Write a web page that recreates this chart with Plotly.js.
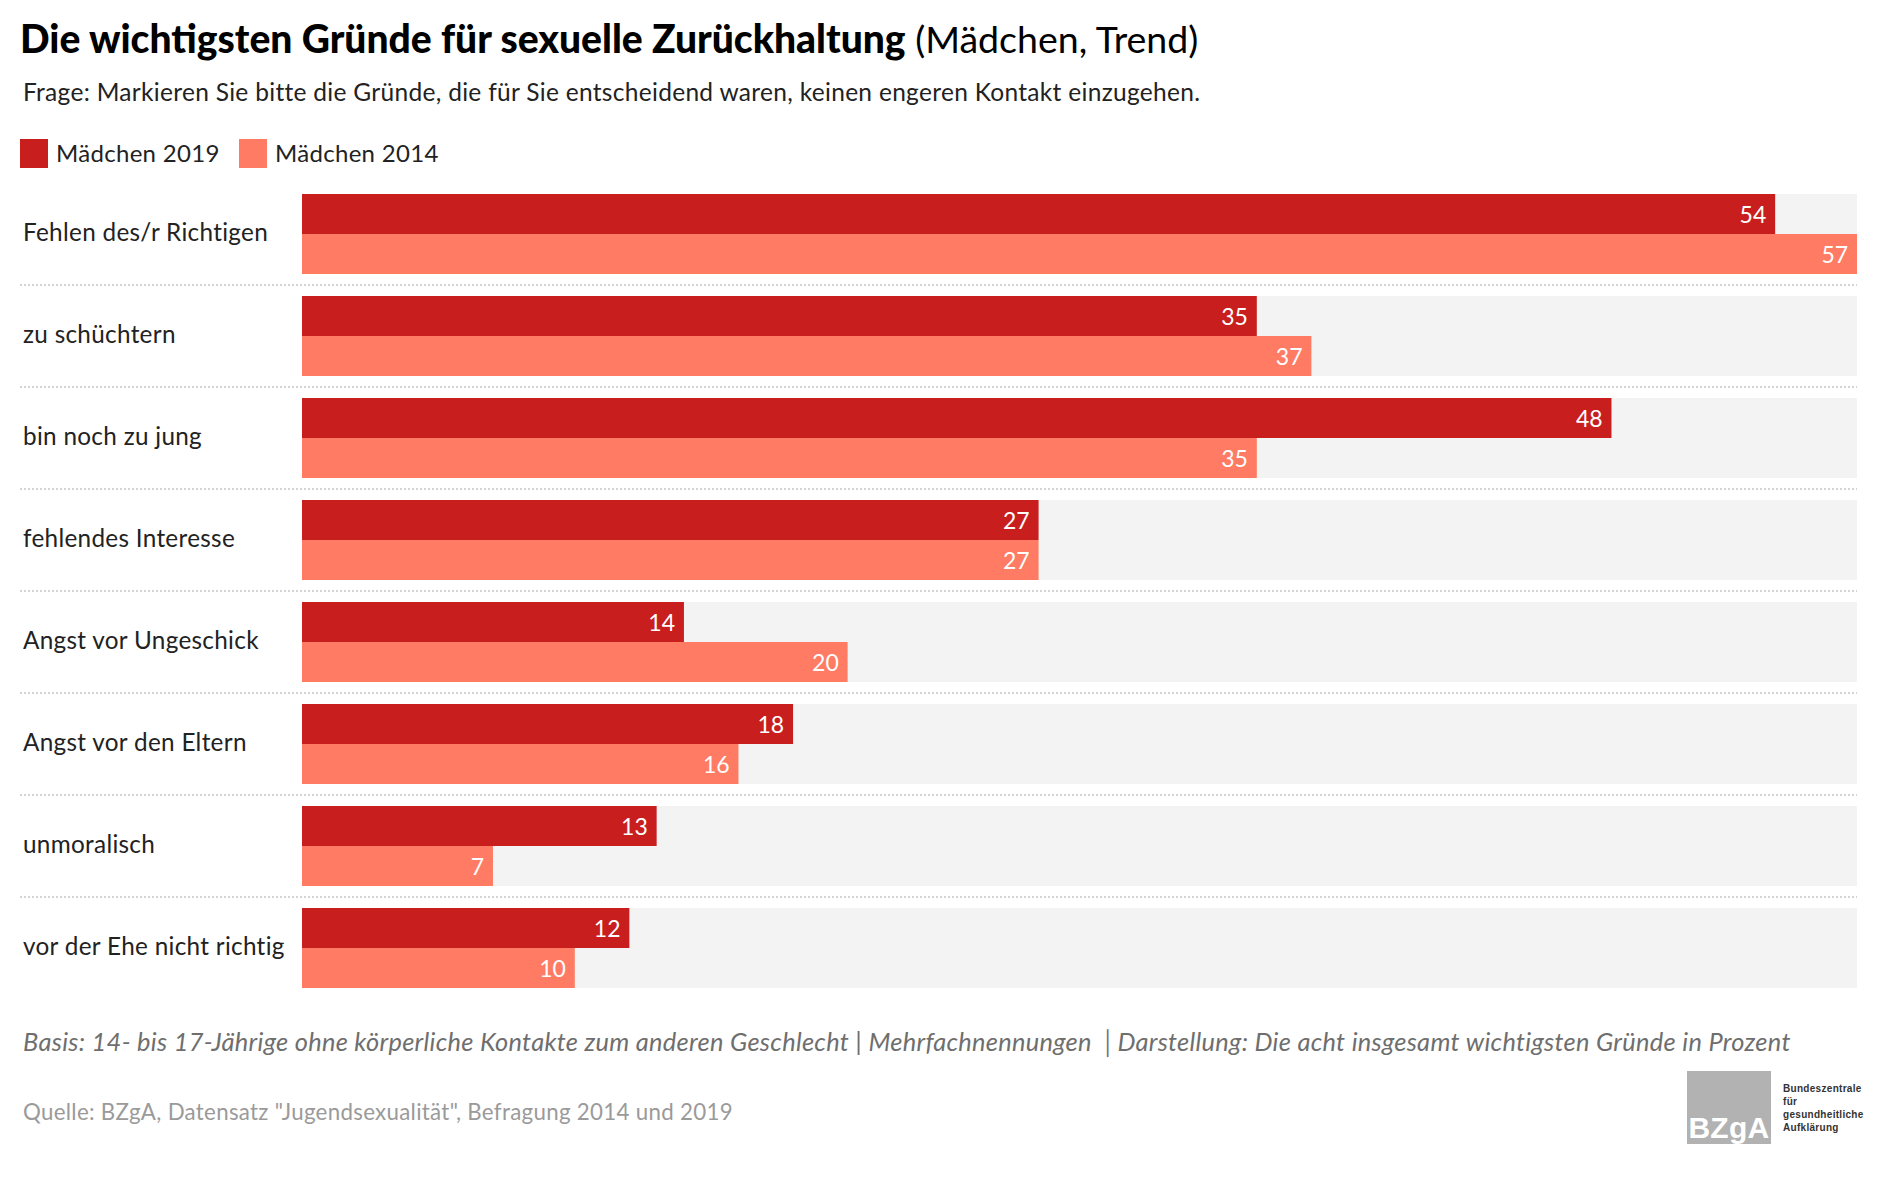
<!DOCTYPE html>
<html lang="de">
<head>
<meta charset="utf-8">
<title>Die wichtigsten Gründe für sexuelle Zurückhaltung</title>
<script src="https://cdn.plot.ly/plotly-3.0.1.min.js"></script>
<style>
  html, body { margin: 0; padding: 0; background: #ffffff; }
  #chart { width: 1880px; height: 1178px; }
  #chart .annotation-text { letter-spacing: 0.3px; }
</style>
</head>
<body>
<div id="chart"></div>
<script>
// Reasons (top to bottom) and shares in percent
const categories = [
  'Fehlen des/r Richtigen',
  'zu schüchtern',
  'bin noch zu jung',
  'fehlendes Interesse',
  'Angst vor Ungeschick',
  'Angst vor den Eltern',
  'unmoralisch',
  'vor der Ehe nicht richtig'
];
const girls2019 = [54, 35, 48, 27, 14, 18, 13, 12];
const girls2014 = [57, 37, 35, 27, 20, 16, 7, 10];
const seriesNames = ['Mädchen 2019', 'Mädchen 2014'];

const titleBold = 'Die wichtigsten Gründe für sexuelle Zurückhaltung';
const titleRest = '(Mädchen, Trend)';
const question = 'Frage: Markieren Sie bitte die Gründe, die für Sie entscheidend waren, keinen engeren Kontakt einzugehen.';
const basisNote = 'Basis: 14- bis 17-Jährige ohne körperliche Kontakte zum anderen Geschlecht | Mehrfachnennungen \u2502Darstellung: Die acht insgesamt wichtigsten Gründe in Prozent';
const sourceNote = 'Quelle: BZgA, Datensatz "Jugendsexualität", Befragung 2014 und 2019';
const logoWord = 'BZgA';
const logoLines = ['Bundeszentrale', 'für', 'gesundheitliche', 'Aufklärung'];

// Styling
const FONT = 'Lato, "Open Sans", "DejaVu Sans", sans-serif';
const LOGO_FONT = '"Liberation Sans", Arial, sans-serif';
const COLOR_2019 = '#c81e1e';
const COLOR_2014 = '#ff7b63';
const TRACK = '#f3f3f3';
const TEXT = '#222222';

// Page geometry (pixels) of the plotting area
const W = 1880, H = 1178;
const L = 302, R = 1857, T = 183, B = 999;
const px = x => (x - L) / (R - L);
const py = y => (B - y) / (B - T);

const axisMax = Math.max(...girls2019, ...girls2014);
const pairWidth = 80 / 102;
const half = pairWidth / 2;

const valueFont = { family: FONT, size: 23, color: '#ffffff' };

const traces = [
  {
    // light track behind each pair of bars
    type: 'bar', orientation: 'h',
    y: categories, x: categories.map(() => axisMax),
    width: pairWidth, offset: -half,
    marker: { color: TRACK },
    hoverinfo: 'skip', showlegend: false
  },
  {
    type: 'bar', orientation: 'h', name: seriesNames[0],
    y: categories, x: girls2019,
    width: half, offset: -half,
    marker: { color: COLOR_2019 },
    texttemplate: '%{x}\u00a0', textposition: 'inside', insidetextanchor: 'end',
    constraintext: 'none', textangle: 0, textfont: valueFont,
    showlegend: false
  },
  {
    type: 'bar', orientation: 'h', name: seriesNames[1],
    y: categories, x: girls2014,
    width: half, offset: 0,
    marker: { color: COLOR_2014 },
    texttemplate: '%{x}\u00a0', textposition: 'inside', insidetextanchor: 'end',
    constraintext: 'none', textangle: 0, textfont: valueFont,
    showlegend: false
  }
];

const shapes = [];
const annotations = [];

// Left-aligned text helper
function note(x, y, text, font, extra) {
  return Object.assign({
    xref: 'paper', yref: 'paper', x: x, y: y,
    xanchor: 'left', yanchor: 'middle', align: 'left',
    showarrow: false, text: text, font: font
  }, extra || {});
}

// Dotted separators between the reasons
for (let i = 0; i < categories.length - 1; i++) {
  shapes.push({
    type: 'line', xref: 'paper', yref: 'y',
    x0: px(20), x1: 1, y0: i + 0.5, y1: i + 0.5,
    line: { color: '#d4d4d4', width: 2, dash: '2px,2px' }
  });
}

// Reason labels, left aligned
categories.forEach(c => {
  annotations.push(note(px(21), c, c,
    { family: FONT, size: 24.3, color: TEXT },
    { yref: 'y', yshift: 3 }));
});

// Legend
const legendItems = [
  { name: seriesNames[0], color: COLOR_2019, x0: 20, x1: 48, tx: 54 },
  { name: seriesNames[1], color: COLOR_2014, x0: 239, x1: 267, tx: 273 }
];
legendItems.forEach(it => {
  shapes.push({
    type: 'rect', xref: 'paper', yref: 'paper',
    x0: px(it.x0), x1: px(it.x1), y0: py(168), y1: py(139),
    fillcolor: it.color, line: { width: 0 }
  });
  annotations.push(note(px(it.tx), py(153), it.name,
    { family: FONT, size: 24, color: TEXT }));
});

// Question line
annotations.push(note(px(21), py(92), question,
  { family: FONT, size: 24.5, color: TEXT }));

// Notes below the chart
annotations.push(note(px(21), py(1042), '<i>' + basisNote + '</i>',
  { family: FONT, size: 25.4, color: '#6e6e6e' }));
annotations.push(note(px(21), py(1111), sourceNote,
  { family: FONT, size: 22.3, color: '#9a9a9a' }));

// Logo block
shapes.push({
  type: 'rect', xref: 'paper', yref: 'paper',
  x0: px(1687), x1: px(1771), y0: py(1144), y1: py(1071),
  fillcolor: '#b2b2b2', line: { width: 0 }
});
annotations.push({
  xref: 'paper', yref: 'paper', x: px(1729), y: py(1127),
  xanchor: 'center', yanchor: 'middle', showarrow: false,
  text: '<b>' + logoWord + '</b>',
  font: { family: LOGO_FONT, size: 30, color: '#ffffff' }
});
annotations.push(note(px(1781), py(1081),
  logoLines.map(s => '<b>' + s + '</b>').join('<br>'),
  { family: LOGO_FONT, size: 10, color: '#333333' },
  { yanchor: 'top' }));

const layout = {
  width: W, height: H,
  paper_bgcolor: '#ffffff', plot_bgcolor: '#ffffff',
  margin: { l: L, r: W - R, t: T, b: H - B, pad: 0 },
  barmode: 'overlay',
  showlegend: false,
  title: {
    text: '<span style="font-weight:900;font-size:39px">' + titleBold + '</span> ' + titleRest,
    xref: 'container', yref: 'container',
    x: 20 / W, y: 1 - 40 / H, xanchor: 'left', yanchor: 'middle',
    font: { family: FONT, size: 37.5, color: '#000000' }
  },
  xaxis: {
    range: [0, axisMax], showticklabels: false, showgrid: false,
    zeroline: false, showline: false, ticks: '', fixedrange: true
  },
  yaxis: {
    type: 'category', categoryorder: 'array', categoryarray: categories,
    range: [categories.length - 0.5, -0.5],
    showticklabels: false, showgrid: false, zeroline: false,
    showline: false, ticks: '', fixedrange: true
  },
  shapes: shapes,
  annotations: annotations,
  hovermode: false
};

Plotly.newPlot('chart', traces, layout, { displayModeBar: false, staticPlot: true });
</script>
</body>
</html>
